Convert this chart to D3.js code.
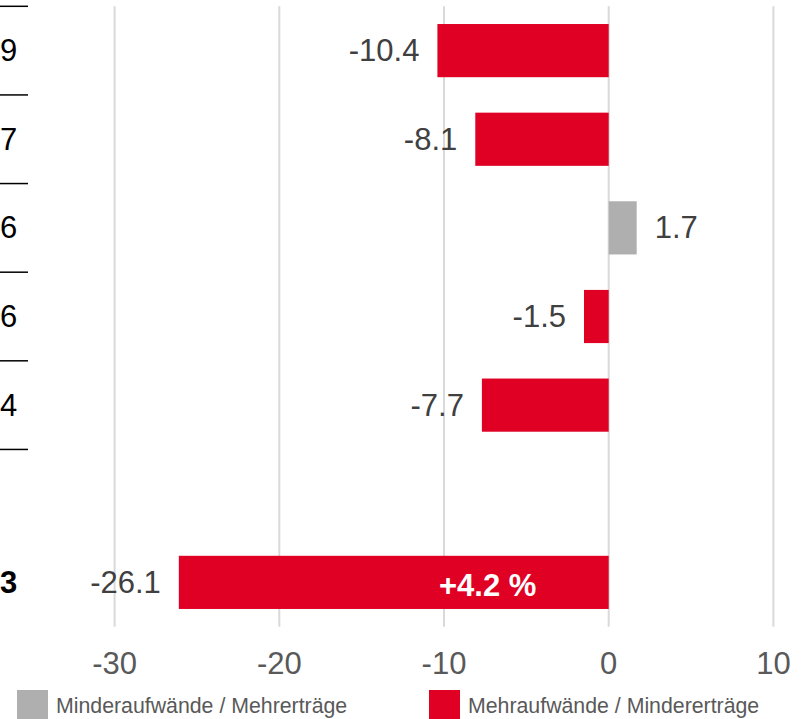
<!DOCTYPE html>
<html>
<head>
<meta charset="utf-8">
<script src="https://cdn.jsdelivr.net/npm/d3@7"></script>
<style>
  html, body { margin: 0; padding: 0; background: #fff; }
  svg { display: block; font-family: "Liberation Sans", Arial, sans-serif; }
</style>
</head>
<body>
<div id="chart"></div>
<script>
// rows of the chart (row 6 is an empty spacer before the total)
const rows = ['r1', 'r2', 'r3', 'r4', 'r5', 'gap', 'total'];
// last digits of the table on the left
const rowLabels = ['9', '7', '6', '6', '4', '', '3'];
const values = [-10.4, -8.1, 1.7, -1.5, -7.7, null, -26.1];
const xTicks = [-30, -20, -10, 0, 10];
const legendItems = ['Minderaufwände / Mehrerträge', 'Mehraufwände / Mindererträge'];
const totalNote = '+4.2 %';
const totalNoteAt = -7.35;

const width = 803;
const height = 719;
const grey = '#afafaf';
const red = '#e00024';

const svg = d3.select('#chart').append('svg')
  .attr('width', width)
  .attr('height', height);

// x scale: -30 at ~115px, 10 at ~773px
const x = d3.scaleLinear()
  .domain([-30, 10])
  .range([114.6, 773.4]);

const y = d3.scaleBand()
  .domain(rows)
  .range([6.3, 626.7])
  .paddingInner(0.4)
  .paddingOuter(0.2);

const gap = (y.step() - y.bandwidth()) / 2;

// gridlines
svg.append('g')
  .selectAll('line')
  .data(xTicks)
  .join('line')
  .attr('x1', d => x(d))
  .attr('x2', d => x(d))
  .attr('y1', y.range()[0])
  .attr('y2', y.range()[1])
  .attr('stroke', '#d9d9d9')
  .attr('stroke-width', 2);

// axis tick labels
svg.append('g')
  .selectAll('text')
  .data(xTicks)
  .join('text')
  .attr('x', d => x(d))
  .attr('y', 663)
  .attr('text-anchor', 'middle')
  .attr('dominant-baseline', 'central')
  .attr('fill', '#595959')
  .attr('font-size', 31)
  .text(d => d);

// separator lines of the left table
svg.append('g')
  .selectAll('line')
  .data(rows.slice(0, 6))
  .join('line')
  .attr('x1', 0)
  .attr('x2', 28)
  .attr('y1', d => y(d) - gap)
  .attr('y2', d => y(d) - gap)
  .attr('stroke', '#000')
  .attr('stroke-width', 1.5);

// left labels
svg.append('g')
  .selectAll('text')
  .data(rows)
  .join('text')
  .attr('x', 0)
  .attr('y', d => y(d) + y.bandwidth() / 2)
  .attr('text-anchor', 'start')
  .attr('dominant-baseline', 'central')
  .attr('font-size', 31)
  .attr('font-weight', d => d === 'total' ? 'bold' : 'normal')
  .attr('fill', '#000')
  .text((d, i) => rowLabels[i]);

const barData = rows.map((r, i) => ({ row: r, value: values[i] })).filter(d => d.value !== null);

// bars
svg.append('g')
  .selectAll('rect')
  .data(barData)
  .join('rect')
  .attr('x', d => x(Math.min(0, d.value)))
  .attr('width', d => Math.abs(x(d.value) - x(0)))
  .attr('y', d => y(d.row))
  .attr('height', y.bandwidth())
  .attr('fill', d => d.value < 0 ? red : grey);

// value labels
svg.append('g')
  .selectAll('text')
  .data(barData)
  .join('text')
  .attr('x', d => d.value < 0 ? x(d.value) - 18 : x(d.value) + 18)
  .attr('y', d => y(d.row) + y.bandwidth() / 2)
  .attr('text-anchor', d => d.value < 0 ? 'end' : 'start')
  .attr('dominant-baseline', 'central')
  .attr('font-size', 31)
  .attr('fill', '#404040')
  .text(d => d.value.toFixed(1));

// note inside total bar
svg.append('text')
  .attr('x', x(totalNoteAt))
  .attr('y', y('total') + y.bandwidth() / 2 + 3)
  .attr('text-anchor', 'middle')
  .attr('dominant-baseline', 'central')
  .attr('font-size', 31)
  .attr('font-weight', 'bold')
  .attr('fill', '#fff')
  .text(totalNote);

// legend
const legendColors = [grey, red];
const legendX = [17, 429];
const legend = svg.append('g')
  .selectAll('g')
  .data(legendItems)
  .join('g')
  .attr('transform', (d, i) => `translate(${legendX[i]},690)`);

legend.append('rect')
  .attr('width', 31)
  .attr('height', 29)
  .attr('fill', (d, i) => legendColors[i]);

legend.append('text')
  .attr('x', 39)
  .attr('y', 16)
  .attr('dominant-baseline', 'central')
  .attr('font-size', 21.3)
  .attr('fill', '#595959')
  .text(d => d);
</script>
</body>
</html>
